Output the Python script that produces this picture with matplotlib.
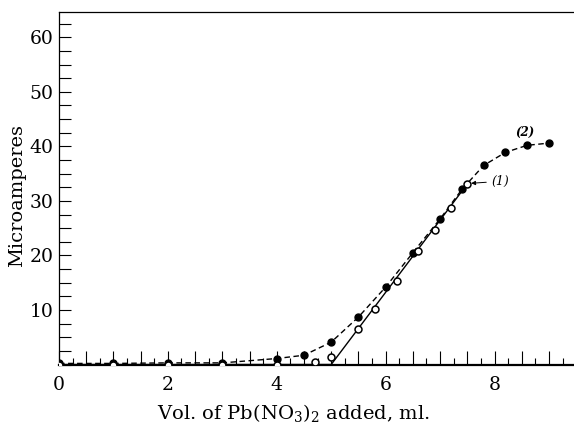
import matplotlib
matplotlib.use("Agg")
import matplotlib.pyplot as plt
from matplotlib.ticker import MultipleLocator, FuncFormatter

plt.rcParams['font.family'] = ['DejaVu Serif']
plt.rcParams['mathtext.fontset'] = 'dejavuserif'

# curve (2): filled points, dashed
vol_2 = [0, 1, 2, 3, 4, 4.5, 5.0, 5.5, 6.0, 6.5, 7.0, 7.4, 7.8, 8.2, 8.6, 9.0]
amp_2 = [0.2, 0.2, 0.3, 0.3, 1.1, 1.7, 4.1, 8.7, 14.2, 20.5, 26.7, 32.1, 36.5, 38.9, 40.2, 40.6]

# curve (1): open points, solid fitted line
vol_1 = [0, 1, 2, 3, 4, 4.7, 5.0, 5.5, 5.8, 6.2, 6.6, 6.9, 7.2, 7.5]
amp_1 = [0, 0, 0, 0, 0, 0.4, 1.3, 6.6, 10.2, 15.3, 20.8, 24.7, 28.7, 33.1]
fit_x = [0, 5.0, 7.5]
fit_y = [0, 0, 33.1]

y_labels = [10, 20, 30, 40, 50, 60]
x_labels = [0, 2, 4, 6, 8]

fig = plt.figure(figsize=(5.74, 4.24), dpi=100)
ax = fig.add_axes([0.1028, 0.1403, 0.8972, 0.8321])

ax.plot(vol_2, amp_2, linestyle=(0, (4, 2.5)), color='black', linewidth=1.0,
        marker='o', markersize=5, markerfacecolor='black', markeredgecolor='black', zorder=3)
ax.plot(fit_x, fit_y, color='black', linewidth=1.0, zorder=2)
ax.plot(vol_1, amp_1, linestyle='none', marker='o', markersize=5,
        markerfacecolor='white', markeredgecolor='black', markeredgewidth=1.1, zorder=4)

ax.annotate('(1)', xy=(7.52, 33.2), xytext=(7.95, 33.6), fontsize=9, style='italic',
            va='center', ha='left',
            arrowprops=dict(arrowstyle='-|>', color='black', lw=0.7, mutation_scale=6))
ax.text(8.56, 41.3, '(2)', fontsize=8.5, style='italic', weight='bold',
        ha='center', va='bottom')

ax.set_xlim(0, 9.46)
ax.set_ylim(0, 64.7)

ax.xaxis.set_major_locator(MultipleLocator(0.5))
ax.xaxis.set_minor_locator(MultipleLocator(0.25))
ax.xaxis.set_major_formatter(FuncFormatter(
    lambda v, p: '%d' % v if any(abs(v - t) < 1e-6 for t in x_labels) else ''))
ax.yaxis.set_major_locator(MultipleLocator(2.5))
ax.yaxis.set_major_formatter(FuncFormatter(
    lambda v, p: '%d' % v if any(abs(v - t) < 1e-6 for t in y_labels) else ''))

ax.tick_params(axis='x', which='major', direction='in', length=10, width=0.8,
               labelsize=13.5, pad=8.5)
ax.tick_params(axis='x', which='minor', direction='in', length=5, width=0.8)
ax.tick_params(axis='y', which='major', direction='in', length=8.5, width=0.8,
               labelsize=13.5, pad=4)

ax.spines['right'].set_visible(False)
ax.spines['bottom'].set_linewidth(1.6)
ax.spines['left'].set_linewidth(0.9)
ax.spines['top'].set_linewidth(0.9)

ax.set_xlabel('Vol. of Pb(NO$_3$)$_2$ added, ml.', fontsize=14)
ax.xaxis.set_label_coords(0.456, -0.106)
ax.set_ylabel('Microamperes', fontsize=14)
ax.yaxis.set_label_coords(-0.064, 0.48)

fig.savefig('out.png', dpi=100)
